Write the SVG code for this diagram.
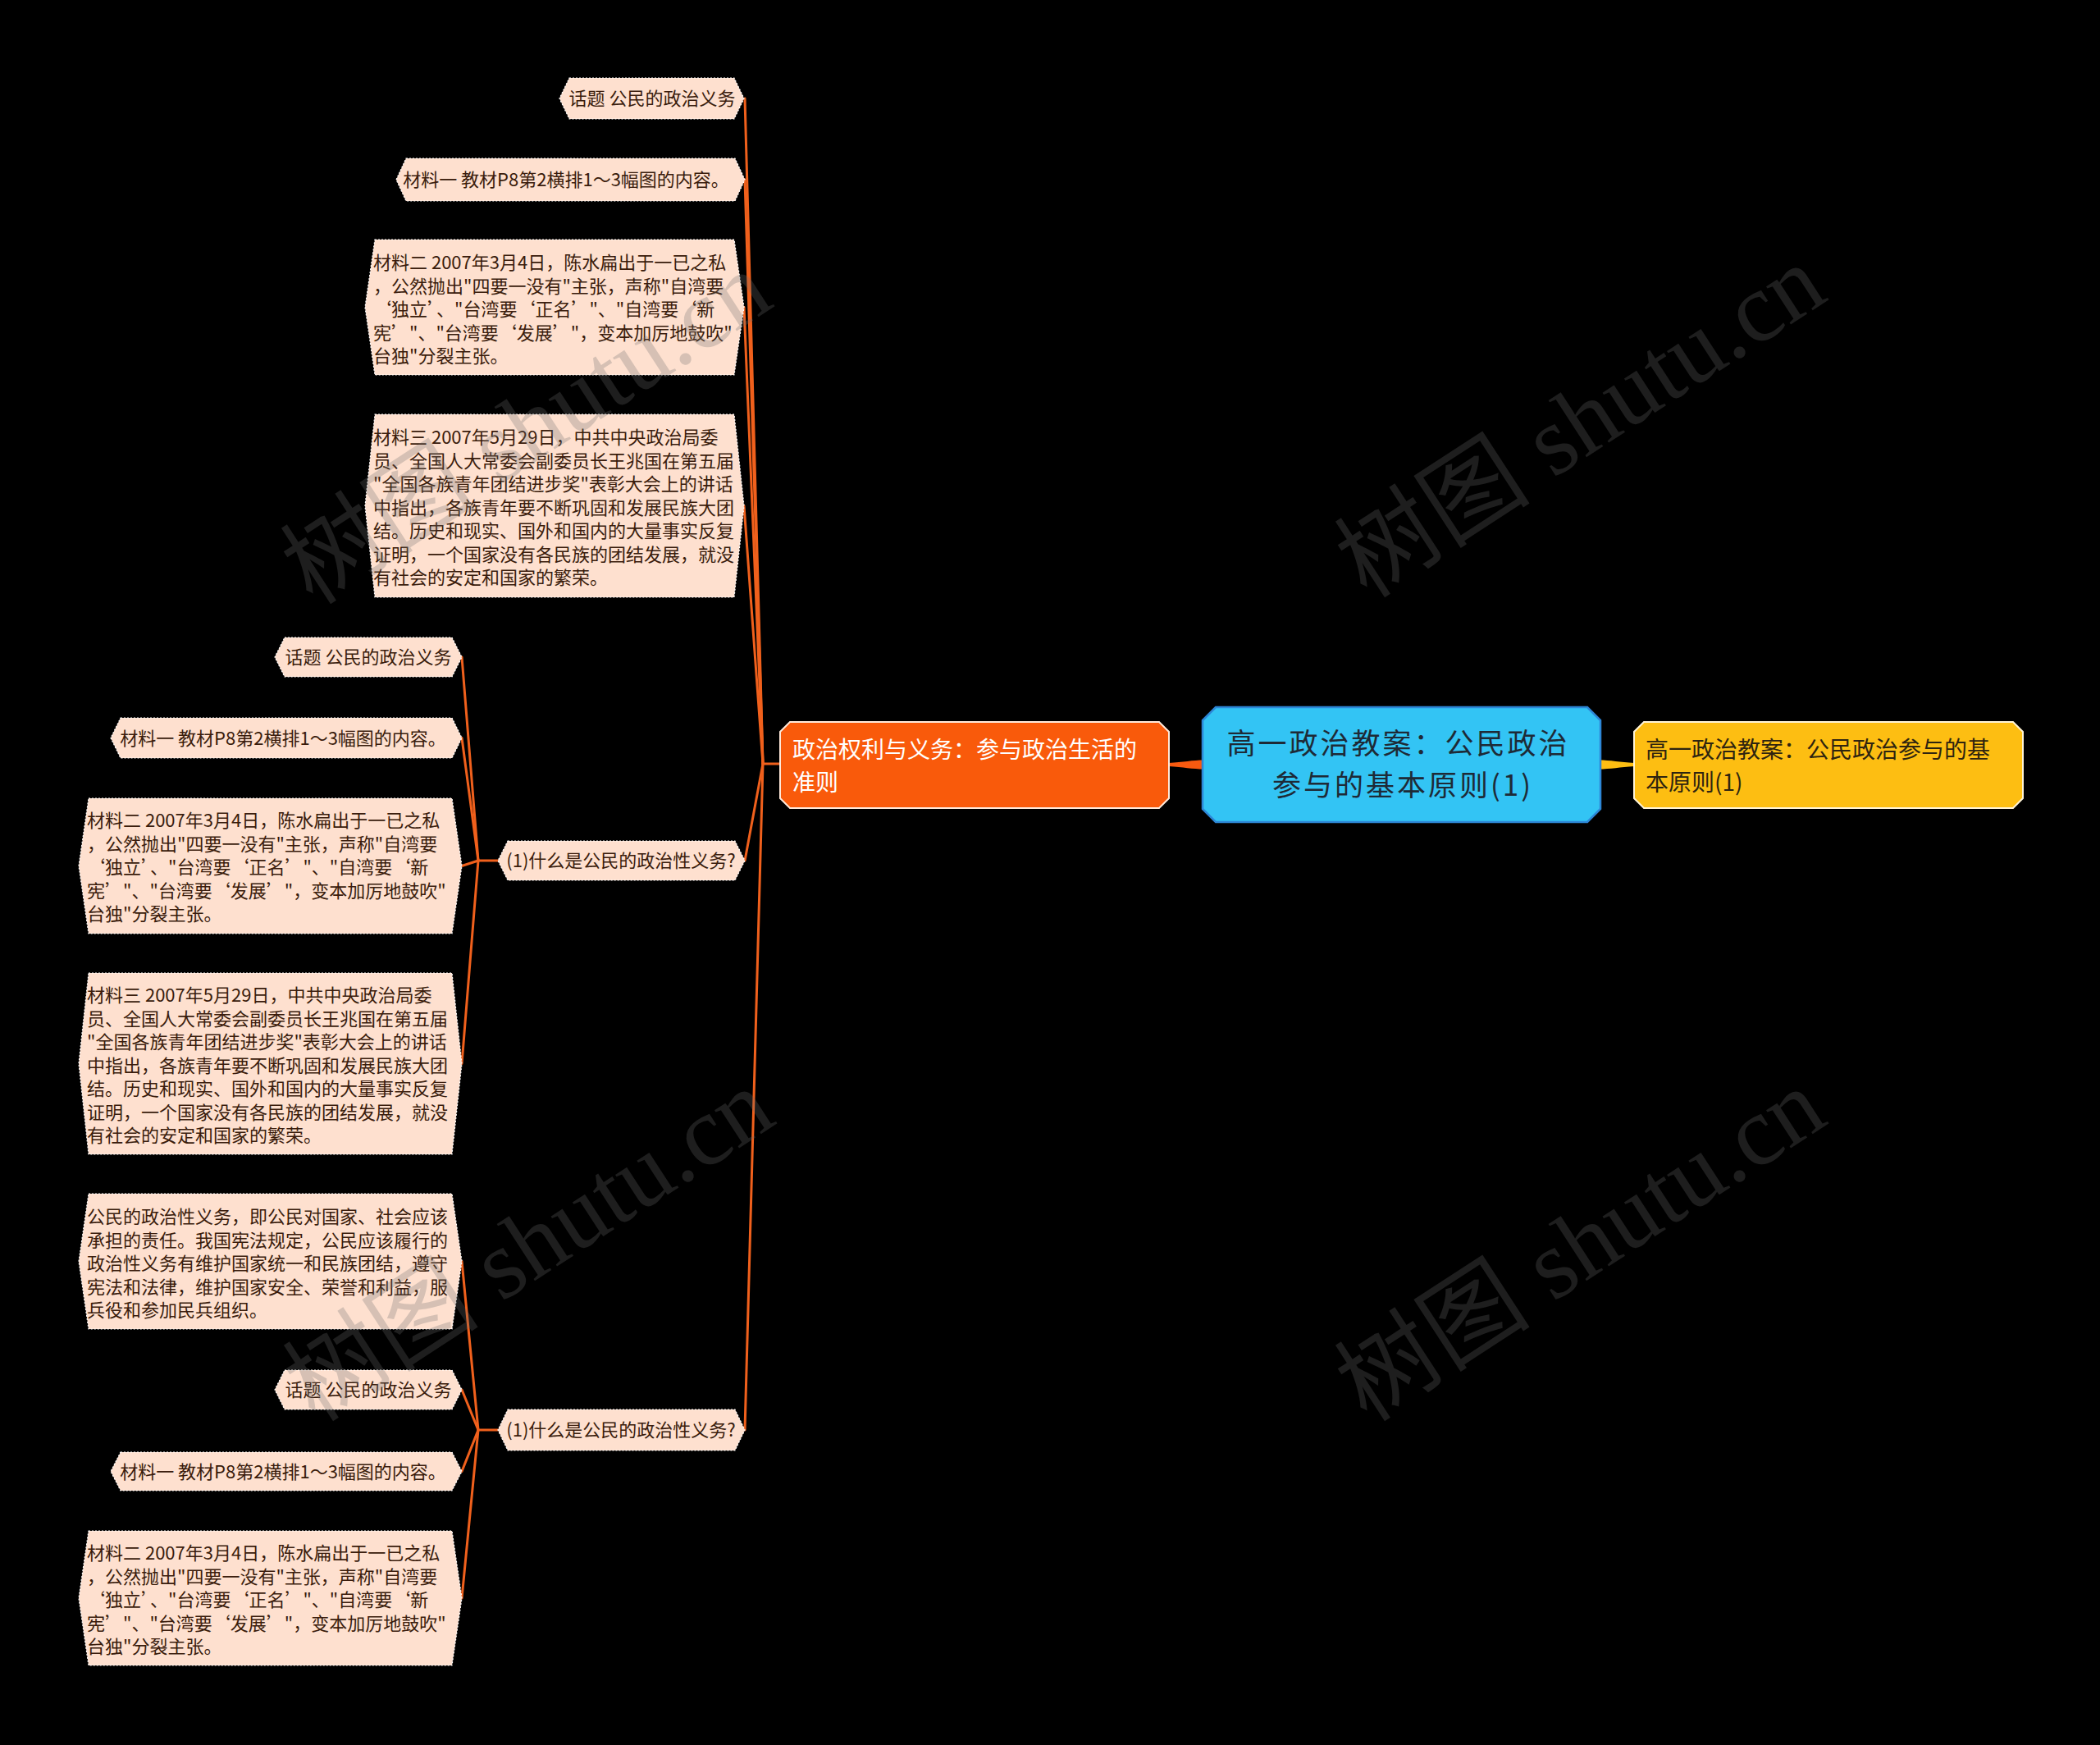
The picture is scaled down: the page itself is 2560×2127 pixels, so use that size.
<svg xmlns="http://www.w3.org/2000/svg" width="2560" height="2127" viewBox="0 0 2560 2127">
<style>
.leaf{fill:#FEE0CF;stroke:#ffffff;stroke-width:1.2;stroke-dasharray:2 2}
.lt{font-family:"Noto Sans CJK SC","Liberation Sans",sans-serif;font-size:22px;fill:#3a1c0c}
.mid{text-anchor:middle}
.link{fill:none;stroke:#F0601C;stroke-width:3;stroke-linecap:round}
.wm{font-family:"Liberation Serif","Noto Sans CJK SC",serif;font-size:120px;fill:#6e6e6e;opacity:0.27;text-anchor:middle}
</style>
<rect width="2560" height="2127" fill="#000000"/>

<g id="connectors">
  <path d="M1425 930 C1442 929 1454 926.5 1468 926.5 L1468 937.5 C1454 937.5 1442 935 1425 934 Z" fill="#F85A10"/>
  <path d="M1992 930 C1975 929 1963 926.5 1949 926.5 L1949 937.5 C1963 937.5 1975 935 1992 934 Z" fill="#FDBE12"/>
  <path class="link" d="M952 931 L930 931"/>
  <path class="link" d="M930 931 L908 120"/>
  <path class="link" d="M930 931 L908 219"/>
  <path class="link" d="M930 931 L907 374.5"/>
  <path class="link" d="M930 931 L907 616.5"/>
  <path class="link" d="M930 931 L908 1049"/>
  <path class="link" d="M930 931 L908 1743"/>
  <path class="link" d="M607 1049 L583 1049"/>
  <path class="link" d="M583 1049 L563 801"/>
  <path class="link" d="M583 1049 L563 899.5"/>
  <path class="link" d="M583 1049 L563 1055.5"/>
  <path class="link" d="M583 1049 L563 1296.5"/>
  <path class="link" d="M607 1743 L583 1743"/>
  <path class="link" d="M583 1743 L563 1537.5"/>
  <path class="link" d="M583 1743 L563 1694"/>
  <path class="link" d="M583 1743 L563 1793.5"/>
  <path class="link" d="M583 1743 L563 1948"/>
</g>

<g id="root">
  <path d="M1482 862 L1935 862 L1951 878 L1951 986 L1935 1002 L1482 1002 L1466 986 L1466 878 Z" fill="#33C4F4" stroke="#2D86D6" stroke-width="2.5"/>
  <text font-family="Noto Sans CJK SC, Liberation Sans, sans-serif" font-size="35" letter-spacing="3" fill="#1e2a36" text-anchor="middle">
    <tspan x="1710" y="919">高一政治教案：公民政治</tspan>
    <tspan x="1710" y="970">参与的基本原则(1)</tspan>
  </text>
</g>

<g id="branch-orange">
  <path d="M963 880 L1413 880 L1425 892 L1425 973 L1413 985 L963 985 L951 973 L951 892 Z" fill="#F95A0B" stroke="#FFE9DA" stroke-width="2"/>
  <text font-family="Noto Sans CJK SC, Liberation Sans, sans-serif" font-size="28" fill="#ffffff">
    <tspan x="966" y="924">政治权利与义务：参与政治生活的</tspan>
    <tspan x="966" y="964">准则</tspan>
  </text>
</g>

<g id="branch-yellow">
  <path d="M2004 880 L2454 880 L2466 892 L2466 973 L2454 985 L2004 985 L1992 973 L1992 892 Z" fill="#FDBE12" stroke="#FFF4D6" stroke-width="2"/>
  <text font-family="Noto Sans CJK SC, Liberation Sans, sans-serif" font-size="28" fill="#2e2410">
    <tspan x="2006" y="924">高一政治教案：公民政治参与的基</tspan>
    <tspan x="2006" y="964">本原则(1)</tspan>
  </text>
</g>

<g id="t1">
  <path class="leaf" d="M694 95 L895 95 L907 120 L895 145 L694 145 L682 120 Z"/>
  <text class="lt mid" x="795" y="128">话题 公民的政治义务</text>
</g>
<g id="t2">
  <path class="leaf" d="M495 193 L896 193 L908 219 L896 245 L495 245 L483 219 Z"/>
  <text class="lt mid" x="690" y="227">材料一 教材P8第2横排1～3幅图的内容。</text>
</g>
<g id="t3">
  <path class="leaf" d="M457 292 L895 292 L907 374.5 L895 457 L457 457 L445 374.5 Z"/>
  <text class="lt">
    <tspan x="455" y="328">材料二 2007年3月4日，陈水扁出于一已之私</tspan>
    <tspan x="455" y="356.5">，公然抛出"四要一没有"主张，声称"自湾要</tspan>
    <tspan x="455" y="385">‘独立’、"台湾要‘正名’"、"自湾要‘新</tspan>
    <tspan x="455" y="413.5">宪’"、"台湾要‘发展’"，变本加厉地鼓吹"</tspan>
    <tspan x="455" y="442">台独"分裂主张。</tspan>
  </text>
</g>
<g id="t4">
  <path class="leaf" d="M457 505 L895 505 L907 616.5 L895 728 L457 728 L445 616.5 Z"/>
  <text class="lt">
    <tspan x="455" y="541">材料三 2007年5月29日，中共中央政治局委</tspan>
    <tspan x="455" y="569.5">员、全国人大常委会副委员长王兆国在第五届</tspan>
    <tspan x="455" y="598">"全国各族青年团结进步奖"表彰大会上的讲话</tspan>
    <tspan x="455" y="626.5">中指出，各族青年要不断巩固和发展民族大团</tspan>
    <tspan x="455" y="655">结。历史和现实、国外和国内的大量事实反复</tspan>
    <tspan x="455" y="683.5">证明，一个国家没有各民族的团结发展，就没</tspan>
    <tspan x="455" y="712">有社会的安定和国家的繁荣。</tspan>
  </text>
</g>

<g id="q1">
  <path class="leaf" d="M619 1025 L896 1025 L908 1049 L896 1073 L619 1073 L607 1049 Z"/>
  <text class="lt mid" x="757" y="1057">(1)什么是公民的政治性义务?</text>
</g>
<g id="q1-c1">
  <path class="leaf" d="M347 777 L551 777 L563 801 L551 825 L347 825 L335 801 Z"/>
  <text class="lt mid" x="449" y="809">话题 公民的政治义务</text>
</g>
<g id="q1-c2">
  <path class="leaf" d="M147 875 L551 875 L563 899.5 L551 924 L147 924 L135 899.5 Z"/>
  <text class="lt mid" x="345" y="907.5">材料一 教材P8第2横排1～3幅图的内容。</text>
</g>
<g id="q1-c3">
  <path class="leaf" d="M108 973 L551 973 L563 1055.5 L551 1138 L108 1138 L96 1055.5 Z"/>
  <text class="lt">
    <tspan x="106" y="1008">材料二 2007年3月4日，陈水扁出于一已之私</tspan>
    <tspan x="106" y="1036.5">，公然抛出"四要一没有"主张，声称"自湾要</tspan>
    <tspan x="106" y="1065">‘独立’、"台湾要‘正名’"、"自湾要‘新</tspan>
    <tspan x="106" y="1093.5">宪’"、"台湾要‘发展’"，变本加厉地鼓吹"</tspan>
    <tspan x="106" y="1122">台独"分裂主张。</tspan>
  </text>
</g>
<g id="q1-c4">
  <path class="leaf" d="M108 1186 L551 1186 L563 1296.5 L551 1407 L108 1407 L96 1296.5 Z"/>
  <text class="lt">
    <tspan x="106" y="1221">材料三 2007年5月29日，中共中央政治局委</tspan>
    <tspan x="106" y="1249.5">员、全国人大常委会副委员长王兆国在第五届</tspan>
    <tspan x="106" y="1278">"全国各族青年团结进步奖"表彰大会上的讲话</tspan>
    <tspan x="106" y="1306.5">中指出，各族青年要不断巩固和发展民族大团</tspan>
    <tspan x="106" y="1335">结。历史和现实、国外和国内的大量事实反复</tspan>
    <tspan x="106" y="1363.5">证明，一个国家没有各民族的团结发展，就没</tspan>
    <tspan x="106" y="1392">有社会的安定和国家的繁荣。</tspan>
  </text>
</g>

<g id="q2">
  <path class="leaf" d="M619 1718 L896 1718 L908 1743 L896 1768 L619 1768 L607 1743 Z"/>
  <text class="lt mid" x="757" y="1751">(1)什么是公民的政治性义务?</text>
</g>
<g id="q2-c1">
  <path class="leaf" d="M108 1455 L551 1455 L563 1537.5 L551 1620 L108 1620 L96 1537.5 Z"/>
  <text class="lt">
    <tspan x="106" y="1491">公民的政治性义务，即公民对国家、社会应该</tspan>
    <tspan x="106" y="1519.5">承担的责任。我国宪法规定，公民应该履行的</tspan>
    <tspan x="106" y="1548">政治性义务有维护国家统一和民族团结，遵守</tspan>
    <tspan x="106" y="1576.5">宪法和法律，维护国家安全、荣誉和利益，服</tspan>
    <tspan x="106" y="1605">兵役和参加民兵组织。</tspan>
  </text>
</g>
<g id="q2-c2">
  <path class="leaf" d="M347 1670 L551 1670 L563 1694 L551 1718 L347 1718 L335 1694 Z"/>
  <text class="lt mid" x="449" y="1702">话题 公民的政治义务</text>
</g>
<g id="q2-c3">
  <path class="leaf" d="M147 1770 L551 1770 L563 1793.5 L551 1817 L147 1817 L135 1793.5 Z"/>
  <text class="lt mid" x="345" y="1801.5">材料一 教材P8第2横排1～3幅图的内容。</text>
</g>
<g id="q2-c4">
  <path class="leaf" d="M108 1866 L551 1866 L563 1948 L551 2030 L108 2030 L96 1948 Z"/>
  <text class="lt">
    <tspan x="106" y="1901">材料二 2007年3月4日，陈水扁出于一已之私</tspan>
    <tspan x="106" y="1929.5">，公然抛出"四要一没有"主张，声称"自湾要</tspan>
    <tspan x="106" y="1958">‘独立’、"台湾要‘正名’"、"自湾要‘新</tspan>
    <tspan x="106" y="1986.5">宪’"、"台湾要‘发展’"，变本加厉地鼓吹"</tspan>
    <tspan x="106" y="2015">台独"分裂主张。</tspan>
  </text>
</g>

<g id="watermarks">
  <text class="wm" x="642" y="562" transform="rotate(-33 642 522)">树图 shutu.cn</text>
  <text class="wm" x="1927" y="554" transform="rotate(-33 1927 514)">树图 shutu.cn</text>
  <text class="wm" x="645" y="1558" transform="rotate(-33 645 1518)">树图 shutu.cn</text>
  <text class="wm" x="1927" y="1558" transform="rotate(-33 1927 1518)">树图 shutu.cn</text>
</g>
</svg>
